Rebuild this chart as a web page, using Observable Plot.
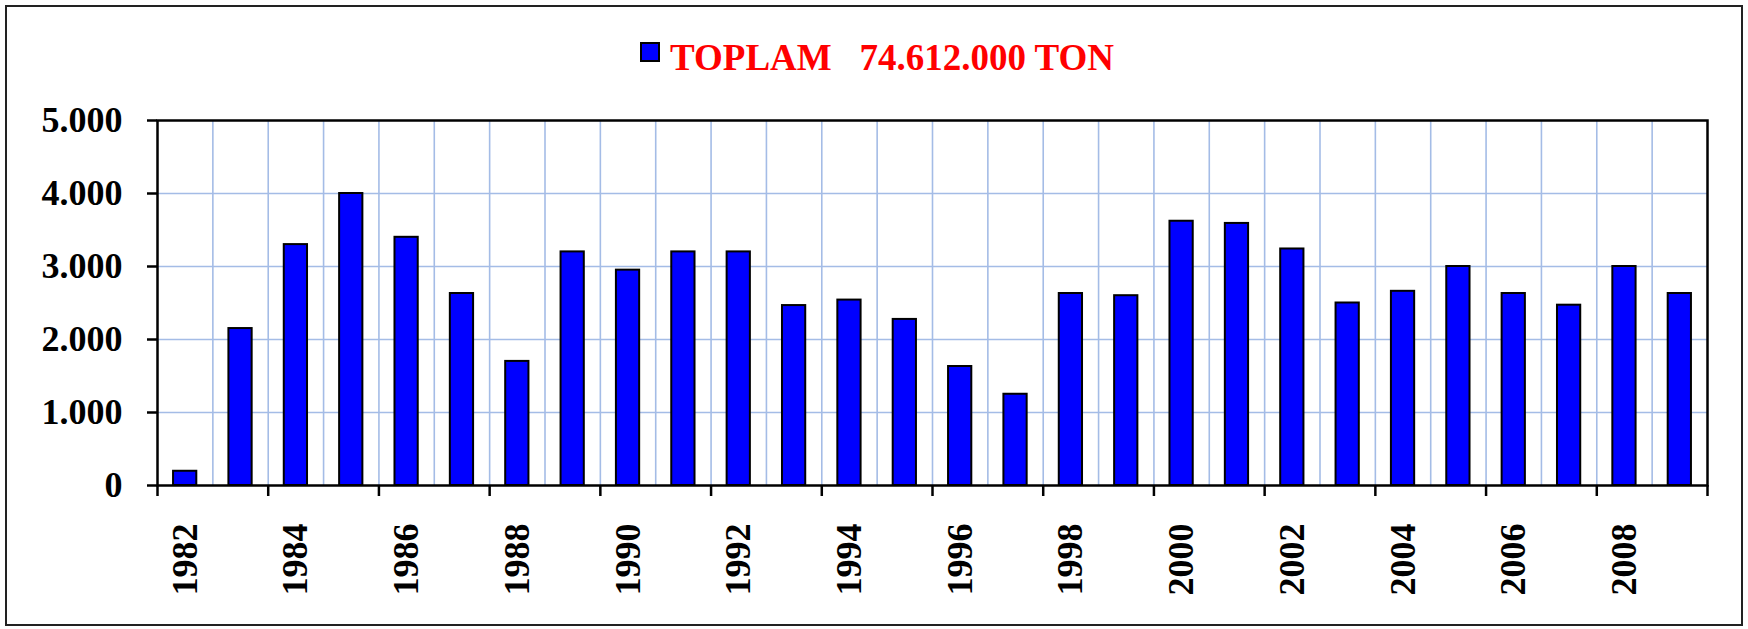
<!DOCTYPE html>
<html>
<head>
<meta charset="utf-8">
<script src="https://cdn.jsdelivr.net/npm/d3@7"></script>
<script src="https://cdn.jsdelivr.net/npm/@observablehq/plot@0.6"></script>
<style>
  html, body { margin: 0; padding: 0; background: #fff; }
  body { width: 1748px; height: 629px; position: relative; overflow: hidden; }
  #border { position: absolute; left: 5px; top: 5px; width: 1734px; height: 617px; border: 2px solid #222; pointer-events: none; }
  #legend { position: absolute; left: 0; top: 0; width: 1748px; height: 80px; }
  #legend .swatch { position: absolute; left: 640px; top: 42px; width: 16px; height: 16px; background: #0000ff; border: 2px solid #000; }
  #legend .label { position: absolute; left: 670px; top: 36px; line-height: 1; font: bold 37px "Liberation Serif", "Times New Roman", serif; color: #ff0000; white-space: pre; }
  #chart { position: absolute; left: 0; top: 80px; }
</style>
</head>
<body>
<div id="legend"><div class="swatch"></div><div class="label">TOPLAM   74.612.000 TON</div></div>
<div id="chart"></div>
<div id="border"></div>
<script>
const years = [1982, 1983, 1984, 1985, 1986, 1987, 1988, 1989, 1990, 1991, 1992, 1993, 1994, 1995,
               1996, 1997, 1998, 1999, 2000, 2001, 2002, 2003, 2004, 2005, 2006, 2007, 2008, 2009];
const values = [195, 2150, 3300, 4000, 3400, 2630, 1700, 3200, 2950, 3200, 3200, 2465, 2540, 2275,
                1630, 1250, 2630, 2600, 3620, 3590, 3240, 2500, 2660, 3000, 2630, 2470, 3000, 2630];
const yTicks = [0, 1000, 2000, 3000, 4000, 5000];
const xLabelYears = [1982, 1984, 1986, 1988, 1990, 1992, 1994, 1996, 1998, 2000, 2002, 2004, 2006, 2008];

const data = years.map((year, i) => ({year, value: values[i]}));
const boundaries = d3.range(years[0] - 0.5, years[years.length - 1] + 1, 1);
const innerBounds = boundaries.slice(1, -1);
const tickBounds = boundaries.filter((d, i) => i % 2 === 0);
const gridY = yTicks.slice(1, -1);
const fmt = d => d3.format(",")(d).replace(/,/g, ".");

const chart = Plot.plot({
  width: 1748,
  height: 549,
  marginLeft: 157,
  marginRight: 41,
  marginTop: 40,
  marginBottom: 144,
  style: { fontFamily: "'Liberation Serif', 'Times New Roman', serif", fontSize: "36px", fontWeight: "bold", color: "#000", background: "transparent" },
  x: { domain: [boundaries[0], boundaries[boundaries.length - 1]] },
  y: { domain: [0, 5000] },
  marks: [
    Plot.ruleX(innerBounds, { stroke: "#a4bce6", strokeWidth: 1.6 }),
    Plot.ruleY(gridY, { stroke: "#a4bce6", strokeWidth: 1.6 }),
    Plot.rectY(data, { x1: d => d.year - 0.21, x2: d => d.year + 0.21, y: "value", fill: "#0000ff", stroke: "#000", strokeWidth: 2 }),
    Plot.frame({ stroke: "#000", strokeWidth: 2.5 }),
    Plot.axisY({ ticks: yTicks, tickFormat: fmt, tickSize: 10, tickPadding: 25, strokeWidth: 2.5, label: null }),
    Plot.axisX({ ticks: tickBounds, tickFormat: () => "", tickSize: 11, strokeWidth: 2.5, label: null }),
    Plot.axisX({ ticks: xLabelYears, tickFormat: d => String(d), tickSize: 0, tickPadding: 38, tickRotate: -90, label: null })
  ]
});
document.getElementById("chart").appendChild(chart);
</script>
</body>
</html>
